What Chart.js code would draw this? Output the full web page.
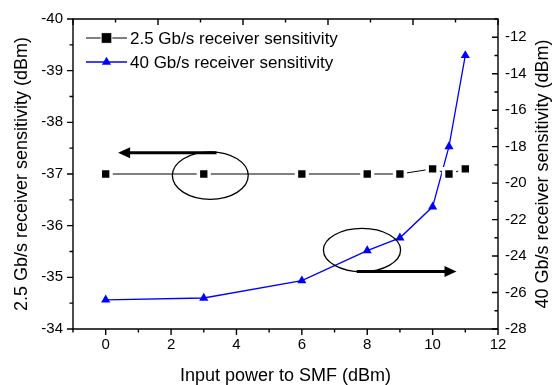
<!DOCTYPE html>
<html>
<head>
<meta charset="utf-8">
<script src="https://cdn.jsdelivr.net/npm/chart.js@4.4.1/dist/chart.umd.min.js"></script>
<style>
  html, body { margin: 0; padding: 0; background: #fff; }
</style>
</head>
<body>
<canvas id="chart" width="552" height="385"></canvas>
<script>
// input power to SMF (dBm)
const power = [0, 3, 6, 8, 9, 10, 10.5, 11];
// receiver sensitivities (dBm)
const sens25 = [-37, -37, -37, -37, -37, -37.1, -37, -37.1];
const sens40 = [-26.4, -26.3, -25.35, -23.7, -23, -21.3, -18, -13];

const seriesNames = ['2.5 Gb/s receiver sensitivity', '40 Gb/s receiver sensitivity'];
const xTicks = [0, 2, 4, 6, 8, 10, 12];
const leftTicks = [-40, -39, -38, -37, -36, -35, -34];
const rightTicks = [-28, -26, -24, -22, -20, -18, -16, -14, -12];

const FONT = '"Liberation Sans", Arial, sans-serif';

// ovals and arrows pointing to the axis each curve belongs to
const ovals = [
  {axis: 'y', x: 3.2, y: -36.97, rx: 1.16, ry: 0.46},
  {axis: 'y2', x: 7.84, y: -23.67, rx: 1.18, ry: 1.19}
];
const arrows = [
  {axis: 'y', from: 3.39, to: 0.38, y: -37.41},
  {axis: 'y2', from: 7.68, to: 10.73, y: -24.85}
];

const pts = (ys) => power.map((p, i) => ({x: p, y: ys[i]}));

const fixSize = (w, h) => (scale) => {
  if (w != null) scale.width = w;
  if (h != null) scale.height = h;
};

function tickMarks(ctx, scale, from, to, step, isMajor, draw) {
  for (let v = from; v <= to + 1e-9; v += step) {
    draw(scale.getPixelForValue(v), isMajor(v) ? 6 : 3.5);
  }
}

const frame = {
  id: 'frame',
  afterDraw(chart) {
    const ctx = chart.ctx;
    const {x, xTop, y, y2} = chart.scales;
    const a = chart.chartArea;
    ctx.save();
    ctx.strokeStyle = '#000';
    ctx.fillStyle = '#000';
    ctx.lineWidth = 1.4;
    ctx.lineCap = 'butt';
    ctx.beginPath();
    ctx.rect(a.left, a.top, a.right - a.left, a.bottom - a.top);
    ctx.stroke();

    ctx.beginPath();
    // bottom: outward
    tickMarks(ctx, x, -1, 12, 1, v => Math.round(v) % 2 === 0,
      (p, len) => { ctx.moveTo(p, a.bottom); ctx.lineTo(p, a.bottom + len); });
    // top: inward
    tickMarks(ctx, xTop, 0, 10, 1, v => Math.round(v) % 2 === 0,
      (p, len) => { ctx.moveTo(p, a.top); ctx.lineTo(p, a.top + len); });
    // left: outward
    tickMarks(ctx, y, -40, -34, 0.5, v => Number.isInteger(v),
      (p, len) => { ctx.moveTo(a.left, p); ctx.lineTo(a.left - len, p); });
    // right: inward
    tickMarks(ctx, y2, -28, -11, 1, v => Math.round(v) % 2 === 0,
      (p, len) => { ctx.moveTo(a.right, p); ctx.lineTo(a.right - len, p); });
    ctx.stroke();

    // ovals
    ctx.lineWidth = 1.3;
    ovals.forEach(o => {
      const sy = chart.scales[o.axis];
      const cx = x.getPixelForValue(o.x);
      const cy = sy.getPixelForValue(o.y);
      const rx = Math.abs(x.getPixelForValue(o.x + o.rx) - cx);
      const ry = Math.abs(sy.getPixelForValue(o.y + o.ry) - cy);
      ctx.beginPath();
      ctx.ellipse(cx, cy, rx, ry, 0, 0, Math.PI * 2);
      ctx.stroke();
    });

    // arrows
    arrows.forEach(ar => {
      const sy = chart.scales[ar.axis];
      const x1 = x.getPixelForValue(ar.from);
      const x2 = x.getPixelForValue(ar.to);
      const py = sy.getPixelForValue(ar.y);
      const dir = Math.sign(x2 - x1);
      ctx.lineWidth = 3;
      ctx.beginPath();
      ctx.moveTo(x1, py); ctx.lineTo(x2 - dir * 10, py);
      ctx.stroke();
      ctx.beginPath();
      ctx.moveTo(x2, py);
      ctx.lineTo(x2 - dir * 12, py - 5.5);
      ctx.lineTo(x2 - dir * 12, py + 5.5);
      ctx.closePath();
      ctx.fill();
    });

    // legend
    const rows = [38, 62];
    chart.data.datasets.forEach((ds, i) => {
      const ry = rows[i];
      ctx.strokeStyle = ds.borderColor;
      ctx.lineWidth = ds.borderWidth;
      ctx.beginPath();
      ctx.moveTo(86, ry); ctx.lineTo(127, ry);
      ctx.stroke();
      ctx.fillStyle = ds.pointBackgroundColor;
      ctx.strokeStyle = ds.pointBorderColor;
      Chart.helpers.drawPoint(ctx, {
        pointStyle: ds.pointStyle, radius: ds.pointRadius,
        borderWidth: ds.pointBorderWidth, rotation: 0
      }, 106.5, ry);
      ctx.fillStyle = '#000';
      ctx.font = '17px ' + FONT;
      ctx.textBaseline = 'middle';
      ctx.textAlign = 'left';
      ctx.fillText(ds.label, 130, ry + 1);
    });

    // right axis title, reading bottom to top
    ctx.save();
    ctx.translate(543, (a.top + a.bottom) / 2);
    ctx.rotate(-Math.PI / 2);
    ctx.fillStyle = '#000';
    ctx.font = '18px ' + FONT;
    ctx.textAlign = 'center';
    ctx.textBaseline = 'middle';
    ctx.fillText('40 Gb/s receiver sensitivity (dBm)', 0, 0);
    ctx.restore();

    ctx.restore();
  }
};

const noGrid = {display: false, drawTicks: false, tickLength: 0};
const noBorder = {display: false};

new Chart(document.getElementById('chart').getContext('2d'), {
  type: 'line',
  data: {
    datasets: [
      {
        label: seriesNames[0],
        data: pts(sens25),
        yAxisID: 'y',
        borderColor: '#000',
        borderWidth: 1,
        pointStyle: 'rect',
        pointRadius: 7.6,
        pointBackgroundColor: '#000',
        pointBorderColor: '#fff',
        pointBorderWidth: 3.4,
        tension: 0
      },
      {
        label: seriesNames[1],
        data: pts(sens40),
        yAxisID: 'y2',
        borderColor: '#0000ff',
        borderWidth: 1.3,
        pointStyle: 'triangle',
        pointRadius: 5.3,
        pointBackgroundColor: '#0000ff',
        pointBorderColor: '#0000ff',
        pointBorderWidth: 0,
        tension: 0
      }
    ]
  },
  options: {
    responsive: false,
    animation: false,
    layout: {padding: 0},
    plugins: {legend: {display: false}, tooltip: {enabled: false}},
    scales: {
      x: {
        type: 'linear', position: 'bottom', min: -1, max: 12,
        afterFit: fixSize(null, 56),
        afterBuildTicks: (s) => { s.ticks = xTicks.map(v => ({value: v})); },
        grid: noGrid, border: noBorder,
        ticks: {color: '#000', font: {family: FONT, size: 15}, padding: 7, maxRotation: 0},
        title: {display: true, text: 'Input power to SMF (dBm)', color: '#000',
          font: {family: FONT, size: 18, lineHeight: 1}, padding: 0}
      },
      xTop: {
        type: 'linear', position: 'top', min: 0, max: 10,
        afterFit: fixSize(null, 14),
        grid: noGrid, border: noBorder,
        ticks: {display: false}
      },
      y: {
        type: 'linear', position: 'left', min: -40, max: -34, reverse: true,
        afterFit: fixSize(73, null),
        afterBuildTicks: (s) => { s.ticks = leftTicks.map(v => ({value: v})); },
        grid: noGrid, border: noBorder,
        ticks: {color: '#000', font: {family: FONT, size: 15}, padding: 10},
        title: {display: true, text: '2.5 Gb/s receiver sensitivity (dBm)', color: '#000',
          font: {family: FONT, size: 18, lineHeight: 1.2}, padding: {top: 11, bottom: 0}}
      },
      y2: {
        type: 'linear', position: 'right', min: -28, max: -11,
        afterFit: fixSize(54, null),
        afterBuildTicks: (s) => { s.ticks = rightTicks.map(v => ({value: v})); },
        grid: noGrid, border: noBorder,
        ticks: {color: '#000', font: {family: FONT, size: 15}, padding: 7}
      }
    }
  },
  plugins: [frame]
});
</script>
</body>
</html>
